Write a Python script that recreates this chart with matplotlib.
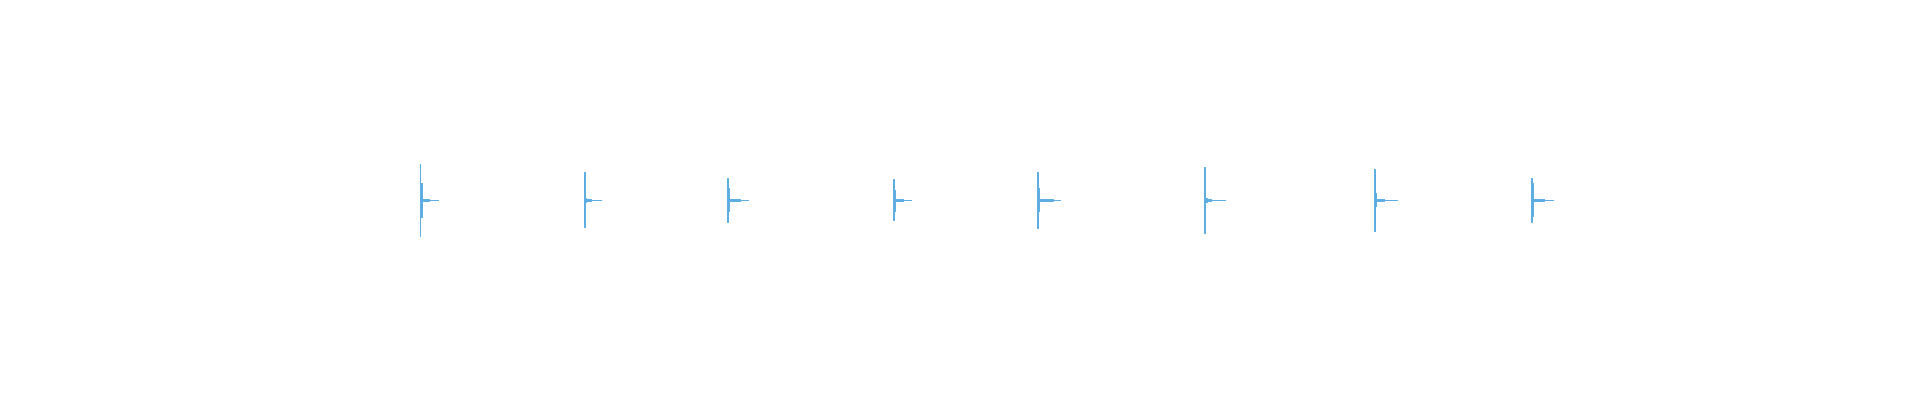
import matplotlib
matplotlib.use("Agg")
import matplotlib.pyplot as plt
import numpy as np

# Onset time of each percussive hit (seconds); clip is 9.6 s long
onsets = [2.0975, 2.9215, 3.6365, 4.4665, 5.1865, 6.0215, 6.8715, 7.6565]
# Peak amplitude of the initial transient
spike_hi = [0.178, 0.138, 0.108, 0.104, 0.142, 0.164, 0.154, 0.111]
spike_lo = [-0.182, -0.137, -0.112, -0.102, -0.142, -0.166, -0.156, -0.112]
# Amplitude right after the transient (body)
body_hi = [0.083, 0.010, 0.058, 0.052, 0.058, 0.010, 0.034, 0.084]
body_lo = [-0.087, -0.009, -0.056, -0.056, -0.056, -0.009, -0.032, -0.078]
body_end_ms = [10, 10, 10, 8, 10, 12, 10, 7]
# Low-level ringing amplitude and its end (ms after onset)
mid_amp = [0.004, 0.004, 0.006, 0.007, 0.006, 0.003, 0.004, 0.006]
mid_end_ms = [45, 35, 63, 48, 77, 34, 48, 63]
# Faint decay tail end (ms after onset)
tail_amp = 0.0015
tail_end_ms = [90, 84, 104, 87, 114, 104, 112, 107]
spike_ms = 2

color = "#5DADE2"

fig = plt.figure(figsize=(19.2, 4), dpi=100)
ax = fig.add_axes([0, 0, 1, 1])
for i, on in enumerate(onsets):
    t = np.array([0, spike_ms, body_end_ms[i], mid_end_ms[i], tail_end_ms[i]]) / 1000.0 + on
    hi = np.array([spike_hi[i], body_hi[i], mid_amp[i], tail_amp, tail_amp])
    lo = np.array([spike_lo[i], body_lo[i], -mid_amp[i], -tail_amp, -tail_amp])
    ax.fill_between(t, lo, hi, step="post", color=color, edgecolor=color, linewidth=0.7)
ax.set_xlim(0, 9.6)
ax.set_ylim(-1, 1)
ax.axis("off")
fig.savefig("out.png", dpi=100, facecolor="white")
